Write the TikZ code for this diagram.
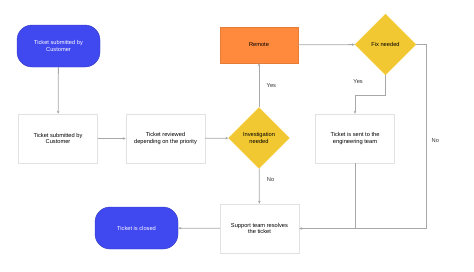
\documentclass[tikz,border=0pt]{standalone}
\usepackage{fontspec}
\setmainfont{Liberation Sans}
\usepackage{xcolor}
\usetikzlibrary{arrows.meta,shapes.geometric}
\definecolor{termblue}{HTML}{4048F0}
\definecolor{remorange}{HTML}{FF8A3D}
\definecolor{decyellow}{HTML}{F2C832}
\definecolor{linegray}{HTML}{A8A8A8}
\definecolor{boxgray}{HTML}{E2E2E2}

\begin{document}
\begin{tikzpicture}[x=1pt, y=-1pt, font=\fontsize{5.7}{6.3}\selectfont,
  term/.style={draw=termblue!80!black, fill=termblue, text=white, rounded corners=15pt, align=center, minimum width=83pt, minimum height=42pt, inner sep=2pt},
  box/.style={draw=boxgray, fill=white, align=center, minimum width=79pt, minimum height=49pt, inner sep=2pt},
  dec/.style={diamond, draw=decyellow, fill=decyellow, align=center, minimum width=61pt, minimum height=61pt, inner sep=0pt},
  arr/.style={-{Stealth[length=3pt, width=2.6pt]}, draw=linegray, line width=0.8pt},
  lbl/.style={text=black!80}]
  \useasboundingbox (0,0) rectangle (474,271);
  \node[term] (start) at (58.5,46) {Ticket submitted by\\Customer};
  \node[box] (sub) at (58,138.5) {Ticket submitted by\\Customer};
  \node[box] (rev) at (165.5,138.5) {Ticket reviewed\\depending on the priority};
  \node[dec] (inv) at (259,138) {Investigation\\needed};
  \node[draw=remorange!90!black, fill=remorange, minimum width=78pt, minimum height=36pt] (rem) at (259,45) {Remote};
  \node[dec] (fix) at (385.5,44.5) {Fix needed};
  \node[box] (eng) at (355,138.5) {Ticket is sent to the\\engineering team};
  \node[box] (sup) at (259.5,228.5) {Support team resolves\\the ticket};
  \node[term] (closed) at (136.5,228) {Ticket is closed};
  \coordinate (fixbend) at (385.5,95);
  \coordinate (nobend) at (426,44.5);
  \draw[arr] (start) -- (sub);
  \draw[arr] (sub) -- (rev);
  \draw[arr] (rev) -- (inv);
  \draw[arr] (inv) -- node[lbl, pos=0.5, right=4pt] {Yes} (rem);
  \draw[arr] (inv) -- node[lbl, pos=0.3, right=4pt] {No} (sup);
  \draw[arr] (rem) -- (fix);
  \draw[arr] (fix.south) -- node[lbl, pos=0.3, left=19pt] {Yes} (fixbend) -| (eng.north);
  \draw[arr] (fix.east) -- (nobend) |- node[lbl, pos=0.26, right=2pt] {No} (sup.east);
  \draw[draw=linegray, line width=0.8pt] (eng.south) -- (eng.south |- sup.east);
  \draw[arr] (sup) -- (closed);
\end{tikzpicture}
\end{document}
